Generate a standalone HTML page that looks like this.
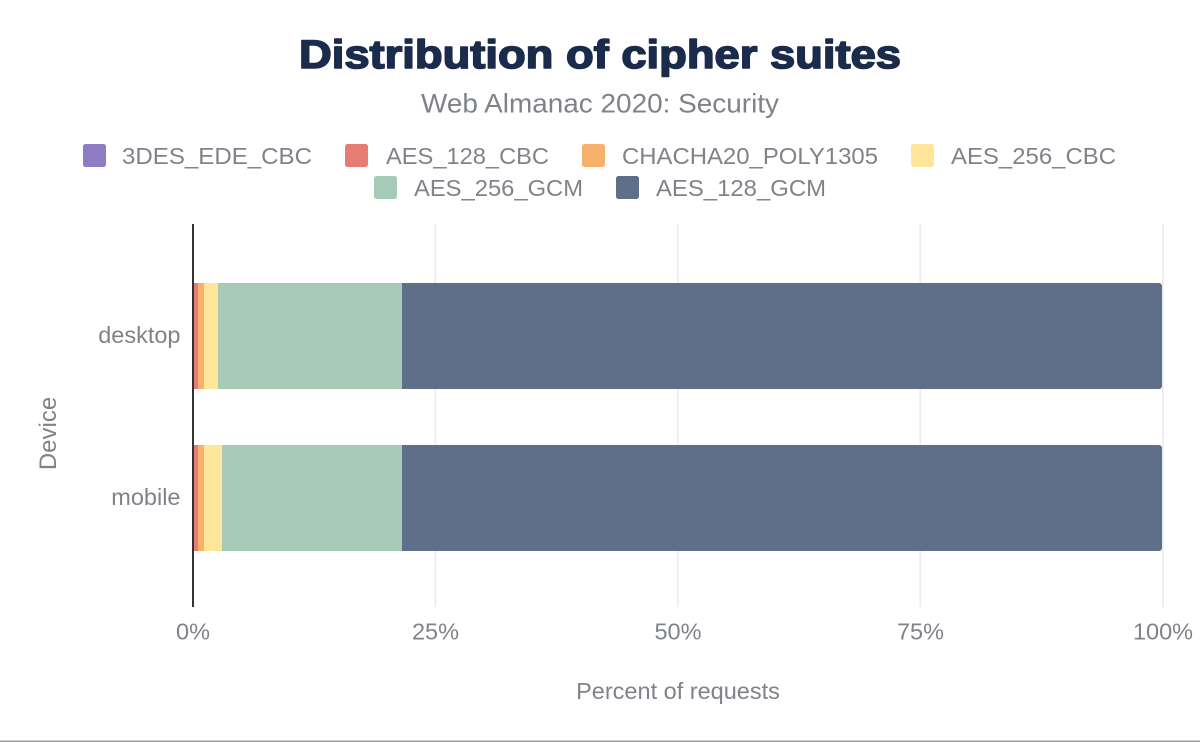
<!DOCTYPE html>
<html>
<head>
<meta charset="utf-8">
<style>
  html, body { margin: 0; padding: 0; background: #ffffff; }
  svg { display: block; }
  text { font-family: "Liberation Sans", Arial, sans-serif; }
</style>
</head>
<body>
<svg width="1200" height="742" viewBox="0 0 1200 742" xmlns="http://www.w3.org/2000/svg">
  <rect x="0" y="0" width="1200" height="742" fill="#ffffff"/>

  <!-- Title -->
  <text x="600" y="68" text-anchor="middle" font-size="40" font-weight="bold" fill="#1a2b4b" stroke="#1a2b4b" stroke-width="1.6" stroke-linejoin="round" textLength="602" lengthAdjust="spacingAndGlyphs">Distribution of cipher suites</text>
  <!-- Subtitle -->
  <text x="600" y="112.5" text-anchor="middle" font-size="26.5" fill="#7f8389" textLength="358" lengthAdjust="spacingAndGlyphs">Web Almanac 2020: Security</text>

  <!-- Legend row 1 -->
  <g font-size="23.5" fill="#7f8389">
    <rect x="83" y="144" width="23" height="23" rx="2.5" fill="#8e7cc3"/>
    <text x="122" y="164" textLength="190" lengthAdjust="spacingAndGlyphs">3DES_EDE_CBC</text>

    <rect x="345" y="144" width="23" height="23" rx="2.5" fill="#e67c73"/>
    <text x="386" y="164" textLength="163" lengthAdjust="spacingAndGlyphs">AES_128_CBC</text>

    <rect x="582" y="144" width="23" height="23" rx="2.5" fill="#f6b26b"/>
    <text x="622" y="164" textLength="256" lengthAdjust="spacingAndGlyphs">CHACHA20_POLY1305</text>

    <rect x="911" y="144" width="23" height="23" rx="2.5" fill="#ffe599"/>
    <text x="951" y="164" textLength="165" lengthAdjust="spacingAndGlyphs">AES_256_CBC</text>

    <!-- Legend row 2 -->
    <rect x="374" y="176" width="23" height="23" rx="2.5" fill="#a7c9b8"/>
    <text x="414" y="196" textLength="169" lengthAdjust="spacingAndGlyphs">AES_256_GCM</text>

    <rect x="616" y="176" width="23" height="23" rx="2.5" fill="#5f6e89"/>
    <text x="656" y="196" textLength="170" lengthAdjust="spacingAndGlyphs">AES_128_GCM</text>
  </g>

  <!-- Gridlines -->
  <g fill="#ebebeb">
    <rect x="434.5" y="224" width="1.6" height="383"/>
    <rect x="677" y="224" width="1.6" height="383"/>
    <rect x="919.5" y="224" width="1.6" height="383"/>
    <rect x="1162" y="224" width="1.6" height="383"/>
  </g>

  <!-- Desktop bar -->
  <rect x="395" y="283" width="767" height="106" rx="3" fill="#5f6e89"/>
  <rect x="218" y="283" width="184" height="106" fill="#a7c9b8"/>
  <rect x="204" y="283" width="14" height="106" fill="#ffe599"/>
  <rect x="198" y="283" width="6" height="106" fill="#f6b26b"/>
  <rect x="193" y="283" width="5" height="106" fill="#e67c73"/>

  <!-- Mobile bar -->
  <rect x="395" y="445" width="767" height="106" rx="3" fill="#5f6e89"/>
  <rect x="222" y="445" width="180" height="106" fill="#a7c9b8"/>
  <rect x="204" y="445" width="18" height="106" fill="#ffe599"/>
  <rect x="198" y="445" width="6" height="106" fill="#f6b26b"/>
  <rect x="193" y="445" width="5" height="106" fill="#e67c73"/>

  <!-- Axis line -->
  <rect x="192" y="224" width="2" height="383" fill="#333333"/>

  <!-- Y labels -->
  <g font-size="23.5" fill="#7f8389" text-anchor="end">
    <text x="180.5" y="343">desktop</text>
    <text x="180.5" y="505">mobile</text>
  </g>
  <text transform="translate(56,433.5) rotate(-90)" text-anchor="middle" font-size="24" fill="#7f8389">Device</text>

  <!-- X tick labels -->
  <g font-size="23.5" fill="#7f8389" text-anchor="middle">
    <text x="193" y="639.5">0%</text>
    <text x="435.5" y="639.5">25%</text>
    <text x="678" y="639.5">50%</text>
    <text x="920.5" y="639.5">75%</text>
    <text x="1163" y="639.5">100%</text>
  </g>
  <text x="678" y="699" text-anchor="middle" font-size="23.5" fill="#7f8389">Percent of requests</text>

  <!-- Bottom border line -->
  <rect x="0" y="740.5" width="1200" height="1.5" fill="#9e9e9e"/>
</svg>
</body>
</html>
